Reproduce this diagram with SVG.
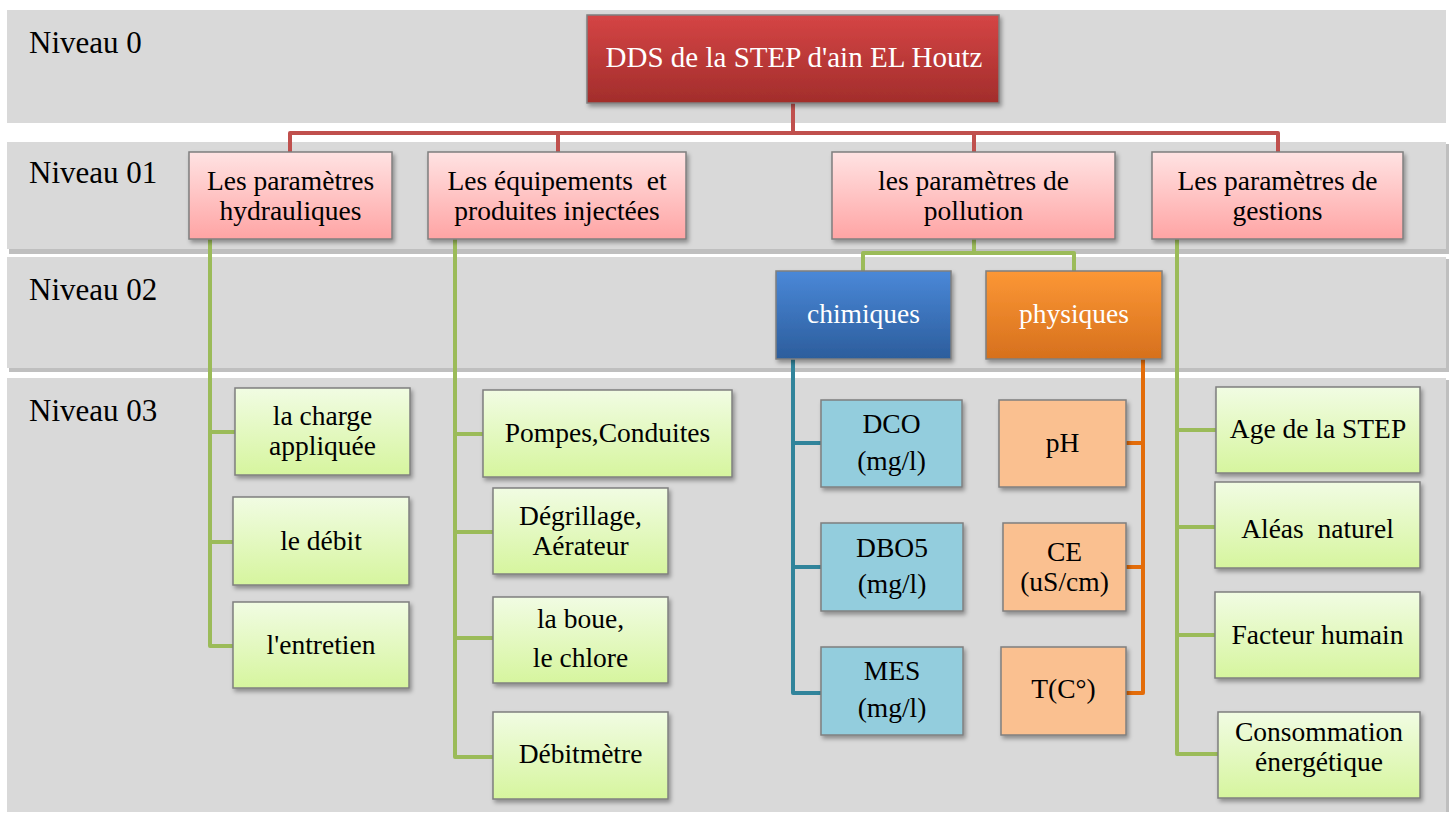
<svg xmlns="http://www.w3.org/2000/svg" width="1452" height="814" viewBox="0 0 1452 814">
<style>
text{font-family:"Liberation Serif","Times New Roman",serif;text-anchor:middle;fill:#000;font-size:27.5px}
.lvl{text-anchor:start;font-size:31px}
.w{fill:#fff}
.band{fill:#d9d9d9}
.bsh{fill:#bfbfbf}
.node{stroke:#7f7f7f;stroke-width:1.5;filter:url(#sh)}
.red{fill:none;stroke:#c0504d;stroke-width:4;stroke-linejoin:round}
.grn{fill:none;stroke:#9bbb59;stroke-width:4;stroke-linejoin:round}
.teal{fill:none;stroke:#31849b;stroke-width:4;stroke-linejoin:round}
.org{fill:none;stroke:#e36c09;stroke-width:4;stroke-linejoin:round}
</style>
<defs>
<filter id="sh" x="-10%" y="-10%" width="125%" height="130%">
<feDropShadow dx="2" dy="3" stdDeviation="2" flood-color="#000" flood-opacity="0.35"/>
</filter>
<linearGradient id="gRoot" x1="0" y1="0" x2="0" y2="1"><stop offset="0" stop-color="#d54545"/><stop offset="1" stop-color="#a22d2b"/></linearGradient>
<linearGradient id="gPink" x1="0" y1="0" x2="0" y2="1"><stop offset="0" stop-color="#ffe3e3"/><stop offset="1" stop-color="#ffa4a4"/></linearGradient>
<linearGradient id="gGreen" x1="0" y1="0" x2="0" y2="1"><stop offset="0" stop-color="#f1fce3"/><stop offset="1" stop-color="#d6f59e"/></linearGradient>
<linearGradient id="gBlue" x1="0" y1="0" x2="0" y2="1"><stop offset="0" stop-color="#4a88d8"/><stop offset="1" stop-color="#2c5d9c"/></linearGradient>
<linearGradient id="gOrange" x1="0" y1="0" x2="0" y2="1"><stop offset="0" stop-color="#fc9735"/><stop offset="1" stop-color="#d6701d"/></linearGradient>
</defs>
<rect width="1452" height="814" fill="#fff"/>
<g id="bands">
<rect class="band" x="7" y="10" width="1439" height="113"/>
<rect class="bsh" x="9" y="249" width="1439" height="5"/>
<rect class="bsh" x="1446" y="144" width="3" height="110"/>
<rect class="band" x="7" y="142" width="1439" height="107"/>
<rect class="bsh" x="9" y="368" width="1439" height="4"/>
<rect class="bsh" x="1446" y="259" width="3" height="113"/>
<rect class="band" x="7" y="257" width="1439" height="111"/>
<rect class="bsh" x="1446" y="380" width="3" height="432"/>
<rect class="band" x="7" y="378" width="1439" height="434"/>
<text class="lvl" x="29" y="53">Niveau 0</text>
<text class="lvl" x="29" y="183">Niveau 01</text>
<text class="lvl" x="29" y="300">Niveau 02</text>
<text class="lvl" x="29" y="421">Niveau 03</text>
</g>
<g id="connectors">
<path class="red" d="M793 103V133M290 152V133H1278V152M558 133V152M974 133V152"/>
<path class="grn" d="M210 239V646H235M210 432H235M210 542H233"/>
<path class="grn" d="M455 239V757H493M455 434H483M455 532H493M455 638H493"/>
<path class="grn" d="M974 239V253M863 271V253H1074V271"/>
<path class="grn" d="M1177 239V754H1218M1177 430H1216M1177 527H1215M1177 635H1215"/>
<path class="teal" d="M793 359V693H821M793 443H821M793 567H821"/>
<path class="org" d="M1143 359V693H1126M1143 443H1126M1143 567H1126"/>
</g>
<g id="root">
<rect class="node" x="587" y="15" width="412" height="88" fill="url(#gRoot)" stroke="#b03a38"/>
<text class="w" x="794" y="67" style="font-size:29px">DDS de la STEP d'ain EL Houtz</text>
</g>
<g id="n-hydrau">
<rect class="node" x="189" y="152" width="203" height="87" fill="url(#gPink)"/>
<text x="290.5" y="189.5">Les paramètres</text><text x="290.5" y="219.5">hydrauliques</text>
</g>
<g id="n-equip">
<rect class="node" x="428" y="152" width="258" height="87" fill="url(#gPink)"/>
<text x="557" y="189.5" xml:space="preserve">Les équipements  et</text><text x="557" y="219.5">produites injectées</text>
</g>
<g id="n-pollution">
<rect class="node" x="832" y="152" width="283" height="87" fill="url(#gPink)"/>
<text x="973.5" y="189.5">les paramètres de</text><text x="973.5" y="219.5">pollution</text>
</g>
<g id="n-gestion">
<rect class="node" x="1152" y="152" width="251" height="87" fill="url(#gPink)"/>
<text x="1277.5" y="189.5">Les paramètres de</text><text x="1277.5" y="219.5">gestions</text>
</g>
<g id="n-chimiques">
<rect class="node" x="776" y="271" width="175" height="88" fill="url(#gBlue)" stroke="#5b8fd3"/>
<text class="w" x="863.5" y="323">chimiques</text>
</g>
<g id="n-physiques">
<rect class="node" x="986" y="271" width="176" height="88" fill="url(#gOrange)" stroke="#f4a04e"/>
<text class="w" x="1074" y="323">physiques</text>
</g>
<g id="n-charge">
<rect class="node" x="235" y="388" width="175" height="87" fill="url(#gGreen)"/>
<text x="322.5" y="425">la charge</text><text x="322.5" y="455">appliquée</text>
</g>
<g id="n-debit">
<rect class="node" x="233" y="497" width="176" height="88" fill="url(#gGreen)"/>
<text x="321" y="550">le débit</text>
</g>
<g id="n-entretien">
<rect class="node" x="233" y="602" width="176" height="86" fill="url(#gGreen)"/>
<text x="321" y="654">l'entretien</text>
</g>
<g id="n-pompes">
<rect class="node" x="483" y="390" width="249" height="87" fill="url(#gGreen)"/>
<text x="607.5" y="442">Pompes,Conduites</text>
</g>
<g id="n-degrillage">
<rect class="node" x="493" y="488" width="175" height="86" fill="url(#gGreen)"/>
<text x="580.5" y="525">Dégrillage,</text><text x="580.5" y="555">Aérateur</text>
</g>
<g id="n-boue">
<rect class="node" x="493" y="597" width="175" height="86" fill="url(#gGreen)"/>
<text x="580.5" y="628">la boue,</text><text x="580.5" y="667">le chlore</text>
</g>
<g id="n-debitmetre">
<rect class="node" x="493" y="712" width="175" height="87" fill="url(#gGreen)"/>
<text x="580.5" y="763">Débitmètre</text>
</g>
<g id="n-dco">
<rect class="node" x="821" y="400" width="141" height="87" fill="#93cddd"/>
<text x="891.5" y="433">DCO</text><text x="891.5" y="470">(mg/l)</text>
</g>
<g id="n-dbo5">
<rect class="node" x="821" y="523" width="142" height="88" fill="#93cddd"/>
<text x="892" y="557">DBO5</text><text x="892" y="593">(mg/l)</text>
</g>
<g id="n-mes">
<rect class="node" x="821" y="647" width="142" height="88" fill="#93cddd"/>
<text x="892" y="680">MES</text><text x="892" y="717">(mg/l)</text>
</g>
<g id="n-ph">
<rect class="node" x="999" y="400" width="127" height="87" fill="#fac090"/>
<text x="1062.5" y="452">pH</text>
</g>
<g id="n-ce">
<rect class="node" x="1003" y="523" width="123" height="88" fill="#fac090"/>
<text x="1064.5" y="561">CE</text><text x="1064.5" y="591">(uS/cm)</text>
</g>
<g id="n-temp">
<rect class="node" x="1001" y="647" width="125" height="88" fill="#fac090"/>
<text x="1063.5" y="698">T(C°)</text>
</g>
<g id="n-age">
<rect class="node" x="1216" y="387" width="204" height="86" fill="url(#gGreen)"/>
<text x="1318" y="438">Age de la STEP</text>
</g>
<g id="n-aleas">
<rect class="node" x="1215" y="482" width="205" height="86" fill="url(#gGreen)"/>
<text x="1317.5" y="538" xml:space="preserve">Aléas  naturel</text>
</g>
<g id="n-facteur">
<rect class="node" x="1215" y="592" width="205" height="86" fill="url(#gGreen)"/>
<text x="1317.5" y="644">Facteur humain</text>
</g>
<g id="n-conso">
<rect class="node" x="1218" y="712" width="202" height="86" fill="url(#gGreen)"/>
<text x="1319" y="741">Consommation</text><text x="1319" y="771">énergétique</text>
</g>
</svg>
